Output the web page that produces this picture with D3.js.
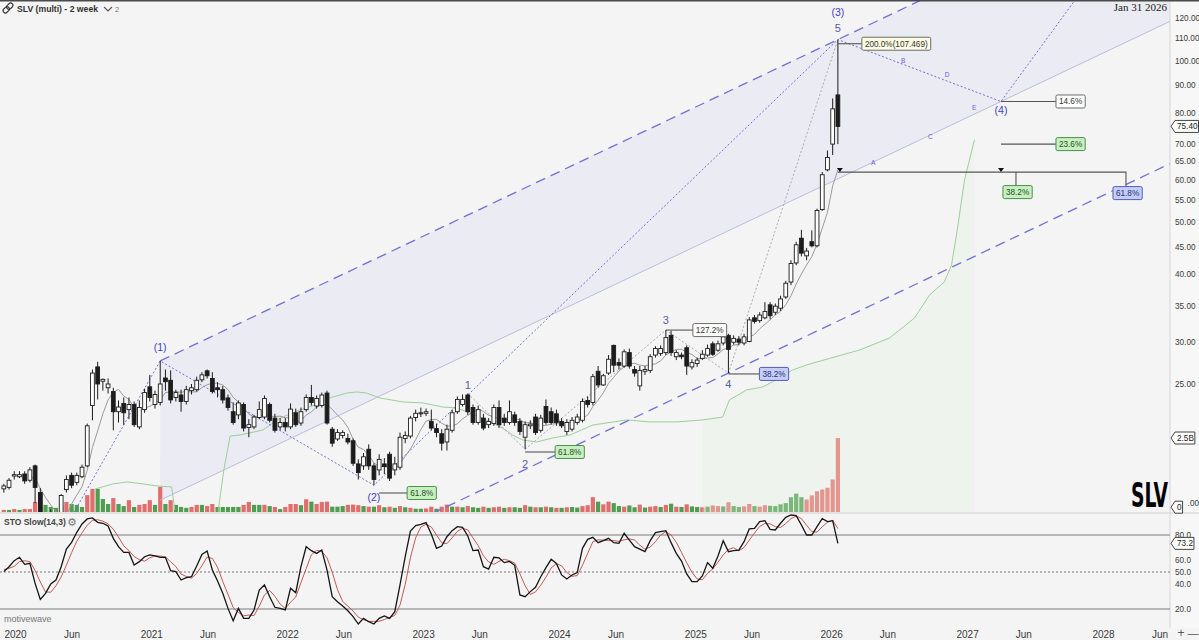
<!DOCTYPE html>
<html><head><meta charset="utf-8">
<script src="https://cdn.jsdelivr.net/npm/d3@7/dist/d3.min.js"></script>
<style>
html,body{margin:0;padding:0;background:#f4f4f4;overflow:hidden}
svg{display:block;font-family:"Liberation Sans",Arial,"DejaVu Sans",sans-serif}
</style></head><body>
<svg id="chart" width="1199" height="640"></svg>
<script>
// ---------------- DATA ----------------
const startDate = "2019-12-02";   // first 2-week bar
const barDays = 14;
const opens = [15.95,16.05,16.85,16.8,17.0,16.55,17.6,15.7,12.2,13.5,
14.1,14.4,15.9,16.9,16.4,16.8,17.6,22.8,26.9,25.3,
24.6,24.2,22.2,23.0,22.4,22.9,20.8,22.4,24.7,22.9,
23.1,25.65,25.4,23.6,23.85,23.2,24.3,24.4,25.45,26.45,
25.6,24.6,24.4,23.55,22.2,21.9,22.9,20.75,20.8,21.65,
21.7,22.9,21.6,20.8,21.2,20.8,22.1,21.15,22.4,23.6,
22.75,22.8,24.05,20.6,19.75,20.05,19.8,19.6,17.75,17.6,
18.9,17.6,17.3,17.75,18.5,17.3,17.5,19.8,20.0,21.65,
22.0,22.05,21.3,20.65,20.2,19.5,20.5,22.2,22.9,23.85,
22.6,21.2,21.6,21.0,21.1,22.6,21.6,21.2,21.9,21.3,
19.9,20.9,21.7,20.5,22.7,22.2,22.0,21.3,20.4,20.6,
21.2,21.4,23.3,23.1,26.4,24.9,26.2,29.5,27.4,27.0,
28.6,26.6,24.8,26.4,26.5,28.3,28.5,28.6,30.8,28.1,
28.3,29.2,26.9,27.3,27.9,28.3,29.7,28.9,29.8,30.8,
29.9,30.3,29.8,30.0,33.2,32.8,33.2,35.1,34.0,34.6,
36.3,38.7,42.0,46.7,43.3,46.0,45.2,52.8,62.6,69.9,
86.3];
const highs = [16.3,16.7,17.2,17.2,17.2,17.5,17.7,16.0,13.8,14.6,
14.3,15.6,16.9,17.1,17.1,17.7,21.1,26.6,27.5,25.6,
25.6,24.6,23.3,23.6,23.6,23.2,23.3,24.5,26.0,24.3,
27.6,26.6,26.5,24.4,24.4,24.8,25.0,25.8,26.3,26.6,
26.3,25.2,24.8,23.9,23.1,23.3,23.1,21.5,21.9,23.2,
23.8,23.1,22.0,21.6,21.6,23.0,22.5,22.6,23.9,24.9,
23.8,24.1,24.3,20.8,20.6,20.5,20.2,19.8,18.1,18.6,
19.3,17.8,18.5,18.2,18.7,18.3,20.3,20.4,21.8,22.4,
22.6,22.5,22.4,21.1,20.6,21.0,22.4,23.7,23.9,24.0,
22.9,22.8,22.0,21.6,22.9,23.3,22.0,23.3,22.2,21.6,
21.3,21.4,22.0,21.9,23.4,22.6,22.4,21.6,21.5,21.7,
22.0,23.5,23.7,26.1,27.0,26.1,28.3,29.6,27.9,29.0,
29.1,27.0,27.0,27.0,28.4,29.4,29.5,31.5,31.4,28.9,
28.6,29.5,27.8,28.0,28.9,29.6,30.0,30.1,31.0,31.0,
30.8,30.7,31.0,33.3,33.6,34.0,35.5,35.5,35.3,36.5,
38.9,42.5,46.0,48.4,44.8,48.3,53.0,62.0,68.0,85.0,
109.4];
const lows = [15.7,15.9,16.6,16.7,16.3,16.4,15.0,11.2,12.0,13.4,
13.6,14.2,15.7,16.0,16.2,16.7,17.5,21.4,23.4,24.3,
24.0,20.5,21.2,21.0,21.5,20.8,20.6,22.1,23.2,22.5,
22.8,24.3,23.0,23.2,22.2,22.9,23.9,24.2,25.2,25.6,
24.0,23.6,23.0,22.3,21.0,21.5,20.4,19.9,20.6,21.5,
21.5,21.2,20.3,20.5,20.4,20.6,20.8,20.9,22.2,22.8,
22.5,22.6,21.0,19.1,19.6,19.8,19.3,17.6,16.6,17.3,
17.3,16.2,16.9,17.0,16.5,16.9,17.3,19.4,19.8,21.3,
21.7,21.8,20.5,19.9,18.8,18.8,20.3,22.0,22.7,21.9,
21.0,21.0,20.5,20.7,20.9,20.7,20.9,21.0,20.9,20.1,
18.9,20.6,20.1,20.3,21.0,21.0,20.9,20.7,20.1,20.4,
21.0,21.2,22.6,22.8,24.6,24.8,26.0,26.3,26.6,26.8,
26.7,25.8,24.3,26.0,26.2,28.0,28.2,28.3,28.2,27.7,
27.8,26.0,26.6,26.9,27.7,28.1,28.2,28.7,29.5,26.2,
29.6,29.5,29.5,29.9,32.4,32.5,33.0,33.0,33.6,34.2,
36.0,38.2,41.6,43.2,42.5,44.9,44.9,52.5,62.2,66.7,
69.9];
const closes = [16.15,16.55,16.95,16.95,16.5,17.3,16.05,12.0,13.4,14.1,
13.9,15.5,16.6,16.2,16.9,17.5,20.9,26.2,25.0,25.5,
25.0,22.2,22.65,22.1,22.9,21.0,22.6,24.1,23.6,23.9,
25.0,25.25,23.35,24.1,23.2,24.4,24.6,25.4,26.0,25.9,
24.2,24.4,23.35,22.6,21.2,23.05,20.7,21.0,21.7,22.4,
23.5,21.4,20.5,21.2,20.8,22.45,21.0,22.2,23.6,23.1,
23.5,23.85,21.15,19.4,20.3,20.3,19.5,17.8,17.1,18.3,
17.6,16.6,18.1,17.55,16.7,17.75,19.9,20.05,21.6,22.05,
22.1,22.2,20.7,20.3,19.4,20.6,22.1,23.4,23.4,22.2,
21.2,22.4,20.7,21.3,22.6,21.0,21.2,22.2,21.2,20.4,
21.0,21.05,20.3,21.6,21.2,21.2,21.2,20.9,21.2,21.4,
21.7,23.2,22.9,25.8,24.9,25.9,27.8,27.1,27.1,28.7,
27.0,26.2,26.5,26.6,28.1,29.1,29.1,30.5,28.6,28.6,
28.1,27.0,27.4,27.7,28.4,29.1,28.4,29.7,30.6,29.0,
30.4,29.9,30.6,32.9,32.7,33.6,34.1,33.5,34.9,36.0,
38.5,41.9,45.4,43.8,44.2,45.2,52.6,61.3,66.0,81.3,
75.4];
// volume in millions of shares and bar colour (r / g)
const volumes = [70,70,100,70,100,100,340,600,240,170,
140,200,340,270,240,170,570,780,780,440,
270,470,270,200,400,170,240,270,400,240,
850,270,400,240,170,140,170,240,240,200,
270,170,170,170,170,170,240,340,240,240,
240,200,170,100,170,270,270,230,430,350,
270,340,350,180,180,200,240,250,230,200,
180,180,230,160,180,140,200,160,140,110,
110,120,180,110,180,250,180,180,160,200,
160,140,180,140,160,180,140,160,160,140,
230,180,160,160,180,160,140,140,160,170,
150,200,230,500,350,260,350,300,200,180,
220,160,250,150,180,200,170,240,280,180,
170,260,190,170,160,180,220,200,190,330,
200,170,190,270,200,180,230,210,200,260,
300,500,620,500,420,560,700,760,820,1100,
2500];
const volColors = "rgrgrrrrgg"+"grrgggrrgg"+"grggrgrrrg"+"rgrgggrrgr"+"rgggggrrgg"+
  "rgrgrrrgrg"+"rrrgggrrrg"+"rgrgrgrgrg"+"grrgrrgrgr"+"ggrgrrgrgg"+
  "rgrgrgrgrg"+"grrrgrrggr"+"ggrgrrgrgr"+"grggrgrrgr"+"ggrrgrrggg"+"ggggrrrrrrr";
// moving average (grey line), starting at bar 5
const maStartBar = 5;
const maValues = [16.73,16.72,15.96,15.37,14.89,14.46,14.16,14.25,14.95,15.53,
16.1,17.27,19.05,20.45,22.0,23.35,24.13,24.43,23.74,23.39,
22.64,22.24,22.56,22.72,23.02,23.37,24.08,24.2,24.2,24.13,
24.22,24.15,24.18,24.62,24.92,25.08,25.08,24.88,24.41,23.61,
23.13,22.55,21.98,21.71,21.68,22.06,21.78,21.75,21.78,21.63,
21.64,21.23,21.36,21.88,22.19,22.64,22.88,22.9,22.43,21.88,
21.42,20.75,19.74,19.07,18.88,18.43,17.82,17.58,17.54,17.48,
17.38,17.77,18.34,18.93,19.68,20.58,21.32,21.45,21.49,21.13,
20.88,20.88,21.08,21.53,21.85,22.15,22.45,22.22,21.87,21.73,
21.53,21.53,21.5,21.58,21.43,21.17,21.18,21.03,20.93,20.93,
21.06,21.09,21.07,21.22,21.18,21.27,21.6,21.88,22.7,23.32,
24.07,25.08,25.73,26.43,26.92,27.27,27.32,27.1,27.02,27.18,
27.25,27.6,28.32,28.67,29.0,29.0,28.65,28.37,27.9,27.87,
27.95,28.0,28.45,28.98,29.2,29.53,29.67,30.03,30.57,30.92,
31.68,32.3,32.9,33.62,34.13,35.1,36.48,38.37,40.08,41.63,
43.17,45.52,48.75,52.18,58.43,62.6];
// green trailing band (bar position, price)
const greenBarsA = [17.5,20.9,23.6,26.7,29.4,32.2,32.8];
const greenPricesA = [15.94,16.29,16.43,16.29,16.15,16.08,14.57];
const greenBarsB = [41.1,42.2,43.4,45.3,49.7,53.0,56.8,59.7,62.5,65.8,67.7,69.6,72.1,76.5,80.4,84.2,86.9,89.4,91.9,95.7,97.6,99.5,102.2,105.3,108.6,113.0,119.5,123.9,129.1,134.0,137.9,139.2,142.5,145.6,148.8,151.3,154.0,158.4,164.2,169.9,174.7,177.6,180.4,181.8,182.9,184.3,186.2];
const greenPricesB = [14.45,17.29,20.0,20.09,20.53,21.6,22.37,22.85,23.55,24.05,24.16,24.05,23.55,23.15,23.05,22.65,22.56,22.08,21.6,20.7,20.09,19.67,19.5,19.84,20.09,20.97,21.43,21.25,21.25,21.43,21.7,23.35,24.37,24.69,25.65,26.55,27.13,27.9,28.93,30.45,33.18,36.62,38.7,41.6,48.4,60.0,71.2];
// stochastic slow (14,3)
const stoK = [50.3,54.3,59.2,61.9,56.2,57.0,40.8,27.8,32.7,40.3,
43.5,54.3,68.6,74.1,82.2,88.9,93.0,93.8,90.3,89.5,
87.3,77.3,70.5,65.9,65.9,55.7,58.4,62.4,63.8,63.0,
61.9,61.9,51.1,50.3,43.5,45.4,46.2,54.9,64.3,67.0,
51.6,42.7,32.7,20.5,10.5,20.5,12.4,12.4,19.2,35.4,
39.5,30.0,21.4,20.5,19.2,36.8,33.2,54.3,70.5,67.3,
65.1,67.8,51.6,30.0,25.9,22.4,18.6,13.8,7.8,12.4,
9.7,7.8,12.4,14.3,12.4,17.8,39.5,62.4,83.2,87.6,
88.6,90.0,80.8,69.2,71.1,78.6,83.5,86.8,86.2,79.2,
67.3,67.8,54.3,52.4,61.9,61.4,57.6,58.6,55.4,31.4,
30.0,34.1,37.6,46.2,53.5,60.3,57.0,47.6,44.3,47.6,
49.5,69.2,76.5,78.1,73.8,75.4,77.3,73.8,73.2,81.4,
75.9,70.5,68.6,66.5,75.4,81.9,82.7,83.5,73.8,65.1,
58.9,48.4,42.2,42.2,46.8,57.6,53.0,63.0,75.4,66.5,
67.3,67.8,74.6,84.9,85.4,90.8,91.6,84.6,84.1,89.5,
94.3,96.2,95.7,88.1,80.0,80.0,86.8,93.2,90.8,91.6,
73.2];
const stoD = [52,53,54.6,58.5,59.1,58.4,51.3,41.9,33.8,33.6,
38.8,46.0,55.5,65.7,75.0,81.7,88.0,91.9,92.4,91.2,
89.0,84.7,78.4,71.2,67.4,62.5,60.0,58.8,61.5,63.1,
62.9,62.3,58.3,54.4,48.3,46.4,45.0,48.8,55.1,62.1,
61.0,53.8,42.3,32.0,21.2,17.2,14.5,15.1,14.7,22.3,
31.4,35.0,30.3,24.0,20.4,25.5,29.7,41.4,52.7,64.0,
67.6,66.7,61.5,49.8,35.8,26.1,22.3,18.3,13.4,11.3,
10.0,10.0,10.0,11.5,13.0,14.8,23.2,39.9,61.7,77.7,
86.5,88.7,86.5,80.0,73.7,73.0,77.7,83.0,85.5,84.1,
77.6,71.4,63.1,58.2,56.2,58.6,60.3,59.2,57.2,48.5,
38.9,31.8,33.9,39.3,45.8,53.3,56.9,55.0,49.6,46.5,
47.1,55.4,65.1,74.6,76.1,75.8,75.5,75.5,74.8,76.1,
76.8,75.9,71.7,68.5,70.2,74.6,80.0,82.7,80.0,74.1,
65.9,57.5,49.8,44.3,43.7,48.9,52.5,57.9,63.8,68.3,
69.7,67.2,69.9,75.8,81.6,87.0,89.3,89.0,86.8,86.1,
89.3,93.3,95.4,93.3,87.9,82.7,82.3,86.7,90.3,91.9,
85.2];
const priceTicks = [120,110,100,90,80,70,65,60,55,50,45,40,35,30,25];
const hiddenTick = 15;   // partly covered by the volume "0" tag
const stoTicks = [80,60,50,40,20];
const timeTicks = ["2020-01-01","2020-06-01","2021-01-01","2021-06-01","2022-01-01","2022-06-01","2023-01-01","2023-06-01","2024-01-01","2024-06-01","2025-01-01","2025-06-01","2026-01-01","2026-06-01","2027-01-01","2027-06-01","2028-01-01","2028-06-01"];
// Elliott wave pivots
const majorWaves = [
  {label:null, bar:7, price:11.2},
  {label:"(1)", bar:30, price:27.6},
  {label:"(2)", bar:71, price:16.2},
  {label:"(3)", bar:160, price:109.4},
  {label:"(4)", date:"2027-04-02", price:83.9},
  {label:null, date:"2027-10-18", price:129.6}
];
const minorWaves = [
  {label:"1", bar:89, price:24.0},
  {label:"2", bar:100, price:18.9},
  {label:"3", bar:127, price:31.5},
  {label:"4", bar:139, price:26.2},
  {label:"5", bar:160, price:109.4}
];
const triangleLabels = [
  {label:"A", date:"2026-04-24", price:64.5},
  {label:"B", date:"2026-07-13", price:99.8},
  {label:"C", date:"2026-09-24", price:72.1},
  {label:"D", date:"2026-11-08", price:94.0},
  {label:"E", date:"2027-01-20", price:81.6}
];
const fibNotes = [
  {text:"200.0%(107.469)", bar:160, price:107.469, kind:"yellow"},
  {text:"14.6%", date:"2027-04-02", price:83.9, kind:"white"},
  {text:"23.6%", date:"2027-04-02", price:69.9, kind:"green"},
  {text:"61.8%", bar:72, price:15.67, kind:"green"},
  {text:"61.8%", bar:100, price:18.68, kind:"green"},
  {text:"127.2%", bar:127, price:31.5, kind:"white"},
  {text:"38.2%", bar:139, price:26.1, kind:"blue"}
];
const retraceLevel = {price:62.0, fromBar:160, markDate:"2027-04-02", labels:["38.2%","61.8%"]};
const lastPrice = 75.40, lastSto = 73.2, volTag = "2.5B";

// ---------------- LAYOUT ----------------
const AX = 1170, PB = 512, ST = 514, SB = 628;
const noteLen = [24, 55, 55, 28, 30, 27, 31];
const boxStyle = {
  yellow:{fill:"#fdfbe2", stroke:"#6b6b6b", text:"#333"},
  white:{fill:"#ffffff", stroke:"#6b6b6b", text:"#333"},
  green:{fill:"#c8efc0", stroke:"#4d8f4d", text:"#1f4f1f"},
  blue:{fill:"#c5cdf5", stroke:"#4f5fc0", text:"#1f2f80"}
};
const labelDy = {"(1)":-10,"(2)":16,"(3)":-24,"(4)":13,"1":-5,"2":19,"3":-6,"4":15,"5":-8};

const svg = d3.select("#chart");
const DAY = 864e5;
const pd = d3.utcParse("%Y-%m-%d");
const t0 = pd(startDate).getTime();
const barDate = i => new Date(t0 + i * barDays * DAY);
const x = d3.scaleUtc().domain([pd("2020-01-01"), pd("2028-01-01")]).range([15, 1103]);
const y = d3.scaleLog().domain([25, 120]).range([384, 18]);
const yVol = d3.scaleLinear().domain([0, 2500]).range([PB, 438]);
const yS = d3.scaleLinear().domain([20, 80]).range([609, 535]);
const px = p => p.bar != null ? x(barDate(p.bar)) : x(pd(p.date));
const pt = p => [px(p), y(p.price)];

// backgrounds
svg.append("rect").attr("width",1199).attr("height",640).attr("fill","#f4f4f4");
svg.append("rect").attr("x",AX).attr("width",29).attr("height",SB).attr("fill","#f7f7f7");
const defs = svg.append("defs");
defs.append("clipPath").attr("id","cp").append("rect").attr("x",0).attr("y",0).attr("width",AX).attr("height",PB);
defs.append("clipPath").attr("id","cs").append("rect").attr("x",0).attr("y",ST).attr("width",AX).attr("height",SB-ST);
const gp = svg.append("g").attr("clip-path","url(#cp)");

// channel geometry
const P1 = pt(majorWaves[1]), P3 = pt(majorWaves[3]), P4 = pt(majorWaves[4]), W4 = pt(minorWaves[3]);
const m = (P3[1]-P1[1])/(P3[0]-P1[0]);
const lineAt = (a, X) => a[1] + m*(X - a[0]);
gp.append("path")
  .attr("d", d3.line()([[P1[0],lineAt(P1,P1[0])],[AX,lineAt(P1,AX)],[AX,lineAt(P4,AX)],[P1[0],lineAt(P4,P1[0])]]))
  .attr("fill","#ebebf3");

// volume
const bw = 4.2;
gp.append("g").selectAll("rect").data(volumes).join("rect")
  .attr("x",(d,i)=>x(barDate(i))-bw/2).attr("width",bw)
  .attr("y",d=>yVol(d)).attr("height",d=>PB-yVol(d))
  .attr("fill",(d,i)=>volColors[i]==="r"?"#e26d6d":"#4f9d4f");

// green band line
const gl = d3.line().x(d=>x(barDate(d[0]))).y(d=>y(d[1]));
gp.append("path").attr("d",gl(greenBarsA.map((b,i)=>[b,greenPricesA[i]]))).attr("fill","none").attr("stroke","#9ccf98").attr("stroke-width",1);
const gB = greenBarsB.map((b,i)=>[b,greenPricesB[i]]);
gp.append("path").attr("d",d3.area().x(d=>x(barDate(d[0]))).y0(PB).y1(d=>y(d[1]))(gB.filter(d=>d[0]>=134)))
  .attr("fill","#e4f2e2").attr("opacity",0.3);
gp.append("path").attr("d",gl(gB)).attr("fill","none").attr("stroke","#9ccf98").attr("stroke-width",1);

// thin channel line
gp.append("line").attr("x1",P1[0]).attr("y1",lineAt(P4,P1[0])).attr("x2",AX).attr("y2",lineAt(P4,AX))
  .attr("stroke","#bcbcdc").attr("stroke-width",1);
// dashed channel lines
gp.append("line").attr("x1",P1[0]).attr("y1",P1[1]).attr("x2",AX).attr("y2",lineAt(P1,AX))
  .attr("stroke","#7070d8").attr("stroke-width",1.3).attr("stroke-dasharray","10,6");
const P2 = pt(majorWaves[2]);
gp.append("line").attr("x1",P2[0]).attr("y1",lineAt(W4,P2[0])).attr("x2",AX).attr("y2",lineAt(W4,AX))
  .attr("stroke","#7070d8").attr("stroke-width",1.3).attr("stroke-dasharray","10,6");

// minor wave dotted (grey)
gp.append("path").attr("d",d3.line()(minorWaves.map(pt))).attr("fill","none")
  .attr("stroke","#a9a9b4").attr("stroke-width",1).attr("stroke-dasharray","2,2");
// major wave dotted (blue)
gp.append("path").attr("d",d3.line()(majorWaves.map(pt))).attr("fill","none")
  .attr("stroke","#6e6ee0").attr("stroke-width",1).attr("stroke-dasharray","2,2");

// moving average
gp.append("path").attr("d",d3.line().x((d,i)=>x(barDate(i+maStartBar))).y(d=>y(d))(maValues))
  .attr("fill","none").attr("stroke","#9a9a9a").attr("stroke-width",1);

// candles
const cw = 3.8;
const cg = gp.append("g");
closes.forEach((c,i)=>{
  const cx = x(barDate(i)), o = opens[i];
  const up = c >= o;
  cg.append("line").attr("x1",cx).attr("x2",cx).attr("y1",y(highs[i])).attr("y2",y(lows[i]))
    .attr("stroke","#1c1c1c").attr("stroke-width",1);
  const top = y(Math.max(o,c)), bot = y(Math.min(o,c));
  cg.append("rect").attr("x",cx-cw/2).attr("y",top).attr("width",cw).attr("height",Math.max(1,bot-top))
    .attr("fill",up?"#ffffff":"#1c1c1c").attr("stroke","#1c1c1c").attr("stroke-width",0.9);
});

// fib notes
const ng = svg.append("g").attr("font-size",8.2);
function box(g, bx, cy, text, kind){
  const st = boxStyle[kind];
  const t = g.append("text").attr("x",bx+3).attr("y",cy+3).attr("fill",st.text).text(text);
  const w = t.node().getComputedTextLength()+6;
  g.insert("rect","text").attr("x",bx).attr("y",cy-6.5).attr("width",w).attr("height",13)
    .attr("fill",st.fill).attr("stroke",st.stroke).attr("stroke-width",1).attr("rx",1.5);
  t.raise();
}
fibNotes.forEach((n,i)=>{
  const X = px(n), Y = y(n.price);
  ng.append("line").attr("x1",X).attr("x2",X+noteLen[i]).attr("y1",Y).attr("y2",Y).attr("stroke","#555").attr("stroke-width",1.1);
  box(ng.append("g"), X+noteLen[i], Y, n.text, n.kind);
});
// long retracement line with markers
{
  const X0 = x(barDate(retraceLevel.fromBar)), Xm = x(pd(retraceLevel.markDate)), Yr = y(retraceLevel.price);
  const Xe = Xm + 125, Xb = Xm + 15;
  ng.append("path").attr("d",`M${X0},${Yr}H${Xe}V${Yr+15}`).attr("fill","none").attr("stroke","#555").attr("stroke-width",1.1);
  ng.append("path").attr("d",`M${Xb},${Yr}V${Yr+14}`).attr("stroke","#555").attr("stroke-width",1.1);
  [X0+2, Xm].forEach(mx=>ng.append("path").attr("d",`M${mx-3},${Yr-4}L${mx+3},${Yr-4}L${mx},${Yr}Z`).attr("fill","#111"));
  box(ng.append("g"), Xb-13, Yr+20, retraceLevel.labels[0], "green");
  box(ng.append("g"), Xe-13, Yr+21, retraceLevel.labels[1], "blue");
}

// wave labels
const lg = svg.append("g").attr("text-anchor","middle");
majorWaves.filter(d=>d.label).forEach(d=>{
  lg.append("text").attr("x",px(d)).attr("y",y(d.price)+labelDy[d.label]).attr("font-size",10.5)
    .attr("fill","#3c3cc8").text(d.label);
});
minorWaves.forEach(d=>{
  lg.append("text").attr("x",px(d)).attr("y",y(d.price)+labelDy[d.label]).attr("font-size",11)
    .attr("fill","#56609c").text(d.label);
});
triangleLabels.forEach(d=>{
  lg.append("text").attr("x",px(d)).attr("y",y(d.price)+2).attr("font-size",6.5)
    .attr("fill","#6262d8").text(d.label);
});

// separators
svg.append("line").attr("x1",0).attr("x2",1199).attr("y1",PB+1).attr("y2",PB+1).attr("stroke","#cfcfcf");
svg.append("line").attr("x1",AX).attr("x2",AX).attr("y1",0).attr("y2",SB).attr("stroke","#d6d6d6");
svg.append("rect").attr("width",1199).attr("height",1.5).attr("fill","#4a4a4a");

// STO panel
const sg = svg.append("g");
[80,20].forEach(v=>sg.append("line").attr("x1",0).attr("x2",AX).attr("y1",yS(v)).attr("y2",yS(v)).attr("stroke","#7a7a7a").attr("stroke-width",1.2));
sg.append("line").attr("x1",0).attr("x2",AX).attr("y1",yS(50)).attr("y2",yS(50)).attr("stroke","#777").attr("stroke-dasharray","2,2");
const sc = sg.append("g").attr("clip-path","url(#cs)");
const sl = d3.line().x((d,i)=>x(barDate(i))).y(d=>yS(d));
sc.append("path").attr("d",sl(stoD)).attr("fill","none").attr("stroke","#c25a52").attr("stroke-width",1);
sc.append("path").attr("d",sl(stoK)).attr("fill","none").attr("stroke","#151515").attr("stroke-width",1.3);

// axes
const ya = svg.append("g").attr("transform",`translate(${AX},0)`)
  .call(d3.axisRight(y).tickValues(priceTicks).tickFormat(d3.format(".2f")).tickSize(0).tickPadding(5));
const sa = svg.append("g").attr("transform",`translate(${AX},0)`)
  .call(d3.axisRight(yS).tickValues(stoTicks).tickFormat(d3.format(".1f")).tickSize(0).tickPadding(5));
const xa = svg.append("g").attr("transform",`translate(0,${SB})`)
  .call(d3.axisBottom(x).tickValues(timeTicks.map(pd)).tickSize(0).tickPadding(3)
    .tickFormat(d=>d.getUTCMonth()===0? d3.utcFormat("%Y")(d) : "Jun"));
[ya,sa].forEach(a=>{a.select(".domain").remove();
  a.selectAll("text").attr("font-family","Liberation Sans, Arial, sans-serif").attr("font-size",8.2).attr("fill","#3a3a3a");});
xa.select(".domain").remove();
xa.selectAll("text").attr("font-family","Liberation Sans, Arial, sans-serif").attr("font-size",10).attr("fill","#3a3a3a");
// the 15.00 price label, mostly hidden behind the volume "0" tag: only its decimals show
svg.append("text").attr("x",1199).attr("y",y(hiddenTick)+3).attr("text-anchor","end")
  .attr("font-size",8.2).attr("fill","#3a3a3a").text(d3.format(".2f")(hiddenTick).slice(-3));

// price tags
function tag(Y, text){
  const g = svg.append("g");
  const t = g.append("text").attr("x",AX+7).attr("y",Y+3).attr("font-size",8.2).attr("fill","#222").text(text);
  const w = t.node().getComputedTextLength()+2;
  g.insert("path","text").attr("d",`M${AX+1},${Y}L${AX+5},${Y-6}H${AX+6+w}V${Y+6}H${AX+5}Z`)
    .attr("fill","#fdfdfd").attr("stroke","#444").attr("stroke-width",1);
}
tag(y(lastPrice), d3.format(".2f")(lastPrice));
tag(yVol(2500), volTag);
tag(y(15)+4, "0");
tag(yS(lastSto), d3.format(".1f")(lastSto));

// headers and texts
const hg = svg.append("g");
hg.append("g").attr("transform","translate(8,8) rotate(-45)").call(g=>{
  g.append("rect").attr("x",-6).attr("y",-2.3).attr("width",7).attr("height",4.6).attr("rx",2.3).attr("fill","none").attr("stroke","#333").attr("stroke-width",1.1);
  g.append("rect").attr("x",-1).attr("y",-2.3).attr("width",7).attr("height",4.6).attr("rx",2.3).attr("fill","none").attr("stroke","#333").attr("stroke-width",1.1);
});
hg.append("text").attr("x",17).attr("y",12).attr("font-size",9.5).attr("font-weight","bold").attr("fill","#333")
  .attr("textLength",81).attr("lengthAdjust","spacingAndGlyphs").text("SLV (multi) - 2 week");
hg.append("path").attr("d","M104,7l4,4l4,-4").attr("fill","none").attr("stroke","#555").attr("stroke-width",1.1);
hg.append("text").attr("x",115).attr("y",12).attr("font-size",7.5).attr("fill","#777").text("2");
hg.append("text").attr("x",1167).attr("y",11).attr("text-anchor","end").attr("font-family","Liberation Serif, serif").attr("font-size",11).attr("fill","#222").text("Jan 31 2026");
hg.append("text").attr("x",1131).attr("y",507).attr("font-family","Liberation Sans Narrow, DejaVu Sans Condensed, sans-serif")
  .attr("font-weight","bold").attr("font-size",34).attr("textLength",37).attr("lengthAdjust","spacingAndGlyphs").attr("fill","#000").text("SLV");
hg.append("text").attr("x",4).attr("y",525).attr("font-size",8.5).attr("font-weight","bold").attr("fill","#444").text("STO Slow(14,3)");
hg.append("text").attr("x",67).attr("y",526).attr("font-size",11).attr("fill","#777").attr("font-family","DejaVu Sans").text("⚙");
hg.append("text").attr("x",4).attr("y",622).attr("font-size",9).attr("fill","#777").text("motivewave");
hg.append("text").attr("x",1181).attr("y",637).attr("font-size",12).attr("fill","#555").attr("text-anchor","middle").text("+");
hg.append("text").attr("x",1193).attr("y",637).attr("font-size",11).attr("fill","#555").attr("text-anchor","middle").text("—");
</script>
</body></html>
